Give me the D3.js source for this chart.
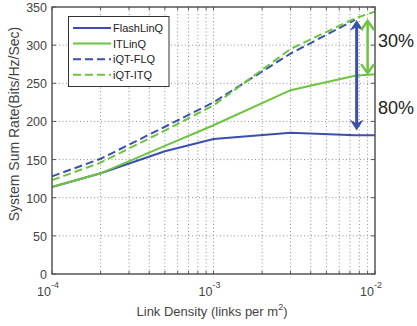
<!DOCTYPE html>
<html>
<head>
<meta charset="UTF-8">
<title>System Sum Rate</title>
<script src="https://d3js.org/d3.v7.min.js"></script>
<style>
  body { margin: 0; background: #fff; }
  svg { display: block; font-family: "Liberation Sans", Arial, sans-serif; }
</style>
</head>
<body>
<div id="chart"></div>
<script>
// link density (links per m^2)
const densities = [1e-4, 2e-4, 5e-4, 1e-3, 3e-3, 7.5e-3, 1e-2];

const flashLinQ = [114, 132, 161, 177, 185, 182, 182];
const itLinQ    = [114, 132, 168, 195, 241, 260, 262];
const iqtFLQ    = [128, 151, 193, 225, 289, 333, null];
const iqtITQ    = [123, 146, 188, 221, 295, 335, 344];

const seriesNames = ["FlashLinQ", "ITLinQ", "iQT-FLQ", "iQT-ITQ"];
const yTicks = [0, 50, 100, 150, 200, 250, 300, 350];
const xTicks = [1e-4, 1e-3, 1e-2];

const blue = "#3b4fae";
const green = "#6cc43f";

const width = 417, height = 326;
const svg = d3.select("#chart").append("svg")
    .attr("width", width)
    .attr("height", height);

const x = d3.scaleLog().domain([1e-4, 1e-2]).range([52, 375]);
const y = d3.scaleLinear().domain([0, 350]).range([274, 7]);

// grid lines (major + minor for log axis)
const minor = [];
for (let e = -4; e < -2; e++) {
    for (let k = 1; k < 10; k++) minor.push(k * Math.pow(10, e));
}
minor.push(1e-2);

const grid = svg.append("g")
    .attr("stroke", "#8f8f8f")
    .attr("stroke-width", 1)
    .attr("stroke-dasharray", "1,2.5");

grid.selectAll(".gx").data(minor.slice(1, -1)).enter().append("line")
    .attr("x1", d => x(d)).attr("x2", d => x(d))
    .attr("y1", y(0)).attr("y2", y(350));

grid.selectAll(".gy").data(yTicks.slice(1, -1)).enter().append("line")
    .attr("x1", x(1e-4)).attr("x2", x(1e-2))
    .attr("y1", d => y(d)).attr("y2", d => y(d));

// tick marks (inside, on all four sides)
const ticks = svg.append("g").attr("stroke", "#555").attr("stroke-width", 1);
minor.forEach(d => {
    ticks.append("line").attr("x1", x(d)).attr("x2", x(d)).attr("y1", y(0)).attr("y2", y(0) - 3);
    ticks.append("line").attr("x1", x(d)).attr("x2", x(d)).attr("y1", y(350)).attr("y2", y(350) + 3);
});
yTicks.forEach(d => {
    ticks.append("line").attr("x1", x(1e-4)).attr("x2", x(1e-4) + 4).attr("y1", y(d)).attr("y2", y(d));
    ticks.append("line").attr("x1", x(1e-2)).attr("x2", x(1e-2) - 4).attr("y1", y(d)).attr("y2", y(d));
});

// lines
const line = d3.line()
    .defined(d => d[1] != null)
    .x(d => x(d[0]))
    .y(d => y(d[1]));

const series = [
    { name: seriesNames[0], values: flashLinQ, color: blue, dash: null },
    { name: seriesNames[1], values: itLinQ, color: green, dash: null },
    { name: seriesNames[2], values: iqtFLQ, color: blue, dash: "8,4" },
    { name: seriesNames[3], values: iqtITQ, color: green, dash: "8,4" }
];

svg.append("g").selectAll("path").data(series).enter().append("path")
    .attr("d", s => line(densities.map((d, i) => [d, s.values[i]])))
    .attr("fill", "none")
    .attr("stroke", s => s.color)
    .attr("stroke-width", 2)
    .attr("stroke-dasharray", s => s.dash);

// frame
svg.append("rect")
    .attr("x", x(1e-4)).attr("y", y(350))
    .attr("width", x(1e-2) - x(1e-4))
    .attr("height", y(0) - y(350))
    .attr("fill", "none")
    .attr("stroke", "#555")
    .attr("stroke-width", 1.5);

// y tick labels
svg.append("g").selectAll("text").data(yTicks).enter().append("text")
    .attr("x", 47).attr("y", d => y(d) + 5)
    .attr("text-anchor", "end")
    .attr("font-size", 12.5)
    .attr("fill", "#444")
    .text(d => d);

// x tick labels 10^n
const xl = svg.append("g").selectAll("text").data(xTicks).enter().append("text")
    .attr("x", d => x(d) - 4).attr("y", 296)
    .attr("text-anchor", "middle")
    .attr("font-size", 12.5)
    .attr("fill", "#444");
xl.append("tspan").text("10");
xl.append("tspan").attr("dy", -8).attr("font-size", 9).text(d => Math.round(Math.log10(d)));

// axis titles
const xt = svg.append("text")
    .attr("x", 212).attr("y", 316)
    .attr("text-anchor", "middle")
    .attr("font-size", 13)
    .attr("fill", "#444")
    .text("Link Density (links per m");
xt.append("tspan").attr("dy", -6).attr("font-size", 9).text("2");
xt.append("tspan").attr("dy", 6).text(")");

svg.append("text")
    .attr("transform", "translate(19,124) rotate(-90)")
    .attr("text-anchor", "middle")
    .attr("font-size", 14)
    .attr("fill", "#444")
    .text("System Sum Rate(Bits/Hz/Sec)");

// legend
const legend = svg.append("g");
legend.append("rect")
    .attr("x", 68.5).attr("y", 16.5)
    .attr("width", 100.5).attr("height", 70)
    .attr("fill", "#fff")
    .attr("stroke", "#333")
    .attr("stroke-width", 1);

const items = legend.selectAll(".item").data(series).enter().append("g")
    .attr("transform", (d, i) => `translate(0,${28 + i * 15.6})`);
items.append("line")
    .attr("x1", 73).attr("x2", 111)
    .attr("stroke", d => d.color)
    .attr("stroke-width", 2)
    .attr("stroke-dasharray", d => d.dash);
items.append("text")
    .attr("x", 113).attr("y", 4)
    .attr("font-size", 11)
    .attr("fill", "#222")
    .text(d => d.name);

// annotation arrows
function filledHead(g, cx, cy, dir, color) {
    // dir = -1 points up, 1 points down
    const w = 7, h = 11, notch = 4;
    g.append("path")
        .attr("d", `M${cx},${cy} L${cx - w},${cy - dir * h} L${cx},${cy - dir * (h - notch)} L${cx + w},${cy - dir * h} Z`)
        .attr("fill", color);
}

function openHead(g, cx, cy, dir, color) {
    const w = 6.5, h = 9;
    g.append("path")
        .attr("d", `M${cx - w},${cy - dir * h} L${cx},${cy} L${cx + w},${cy - dir * h}`)
        .attr("fill", "none")
        .attr("stroke", color)
        .attr("stroke-width", 2.5);
}

const ann = svg.append("g");
const bx = x(7.7e-3), bTop = y(333), bBot = y(188);
ann.append("line").attr("x1", bx).attr("x2", bx)
    .attr("y1", bTop + 6).attr("y2", bBot - 6)
    .attr("stroke", blue).attr("stroke-width", 3);
filledHead(ann, bx, bTop, -1, blue);
filledHead(ann, bx, bBot, 1, blue);

const gx = x(9e-3), gTop = y(333), gBot = y(262);
ann.append("line").attr("x1", gx).attr("x2", gx)
    .attr("y1", gTop + 1).attr("y2", gBot - 1)
    .attr("stroke", green).attr("stroke-width", 2.5);
openHead(ann, gx, gTop + 1, -1, green);
openHead(ann, gx, gBot - 1, 1, green);

svg.append("text").attr("x", 378).attr("y", 47)
    .attr("font-size", 18).attr("fill", "#222").text("30%");
svg.append("text").attr("x", 378).attr("y", 114)
    .attr("font-size", 18).attr("fill", "#222").text("80%");
</script>
</body>
</html>
